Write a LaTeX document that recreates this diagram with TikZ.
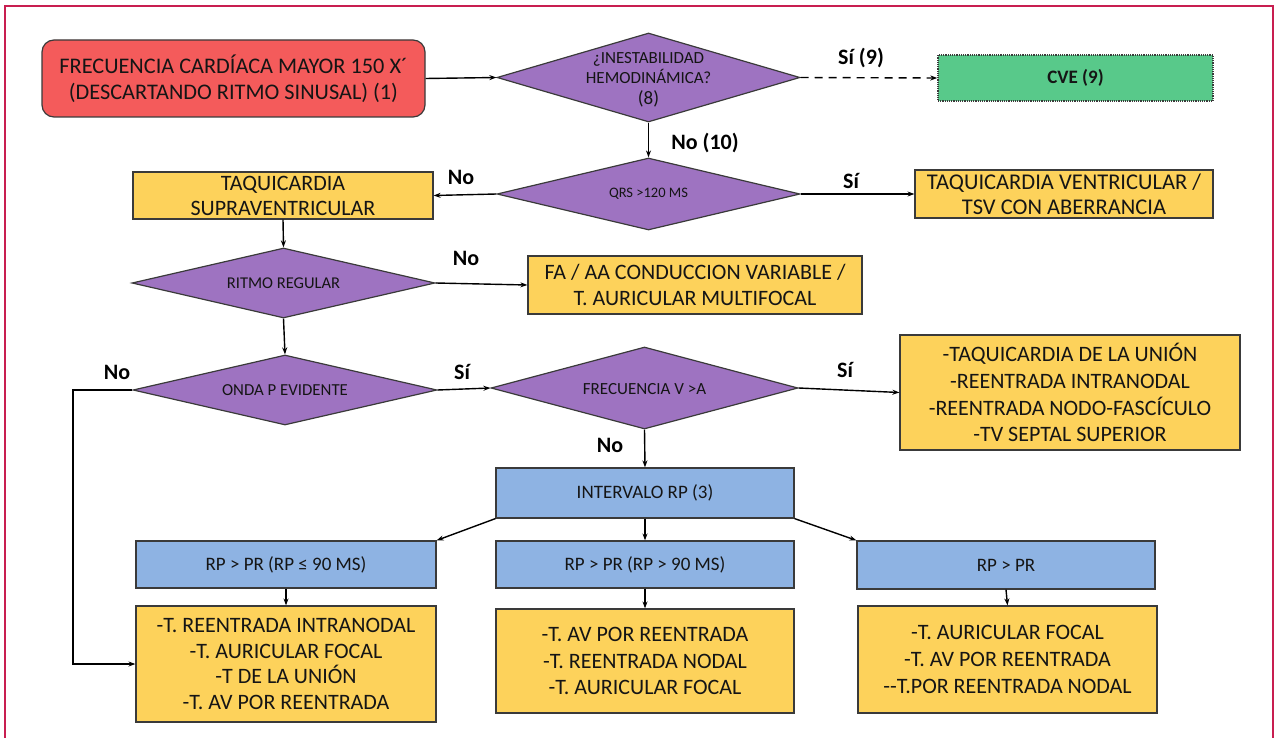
\documentclass[tikz,border=0pt]{standalone}
\usepackage{fontspec}
\setmainfont{Carlito}
\usetikzlibrary{shapes.geometric,arrows.meta}

\definecolor{framecol}{HTML}{C81E50}
\definecolor{redfill}{HTML}{F45B5B}
\definecolor{purplefill}{HTML}{9E73C1}
\definecolor{yellowfill}{HTML}{FDD25B}
\definecolor{bluefill}{HTML}{8EB3E3}
\definecolor{greenfill}{HTML}{58C98A}
\definecolor{edgecol}{HTML}{3A3A3A}
\definecolor{txt}{HTML}{151515}

\tikzset{
  box/.style={rectangle, draw=edgecol, line width=1.2pt, inner sep=0pt,
    align=center, text=txt, font=\fontsize{22}{25.5}\selectfont},
  startbox/.style={box, fill=redfill, rounded corners=12pt,
    font=\fontsize{22.3}{26}\selectfont},
  resbox/.style={box, fill=yellowfill},
  rpbox/.style={box, fill=bluefill, font=\fontsize{19}{21}\selectfont},
  cvebox/.style={box, fill=greenfill, densely dotted, line width=1.4pt,
    font=\bfseries\fontsize{19}{21}\selectfont},
  decision/.style={diamond, draw=edgecol, line width=1.2pt, fill=purplefill,
    inner sep=0pt},
  dtext/.style={align=center, text=txt, inner sep=0pt},
  arr/.style={-{Stealth[length=7pt,width=5pt]}, line width=1.4pt, black},
  lbl/.style={font=\bfseries\fontsize{22}{24}\selectfont, text=black, inner sep=0pt}
}

\begin{document}
\begin{tikzpicture}[x=1pt, y=-1pt]
\useasboundingbox (0,0) rectangle (1277,738);
% outer frame, open at the bottom edge
\draw[framecol, line width=2.6pt] (5,745) -- (5,6) -- (1273,6) -- (1273,745);

% entry and first decision
\node[startbox, minimum width=383pt, minimum height=77pt] (start) at (233.5,78.5)
  {FRECUENCIA CARDÍACA MAYOR 150 X´\\(DESCARTANDO RITMO SINUSAL) (1)};
\node[decision, minimum width=303pt, minimum height=89pt] (d1) at (648.5,77.5) {};
\node[dtext, font=\fontsize{17}{20.5}\selectfont] (d1t) at (648.5,79.5)
  {¿INESTABILIDAD\\HEMODINÁMICA?\\{\fontsize{19}{21}\selectfont (8)}};
\node[cvebox, minimum width=275pt, minimum height=46pt] (cve) at (1075.5,78) {CVE (9)};

% QRS width
\node[decision, minimum width=303pt, minimum height=72pt] (d2) at (648.5,194) {};
\node[dtext, font=\fontsize{14.5}{16}\selectfont] (d2t) at (648.5,194) {QRS >120 MS};
\node[resbox, minimum width=300pt, minimum height=47pt,
  font=\fontsize{22}{25}\selectfont] (tsv) at (283,195.5)
  {TAQUICARDIA\\SUPRAVENTRICULAR};
\node[resbox, minimum width=298pt, minimum height=48pt,
  font=\fontsize{22.5}{25}\selectfont] (tv) at (1064,194)
  {TAQUICARDIA VENTRICULAR /\\TSV CON ABERRANCIA};

% rhythm regularity
\node[decision, minimum width=303pt, minimum height=70pt] (d3) at (283.5,283) {};
\node[dtext, font=\fontsize{16.5}{18}\selectfont] (d3t) at (283.5,283) {RITMO REGULAR};
\node[resbox, minimum width=334pt, minimum height=58pt,
  font=\fontsize{22}{26}\selectfont] (fa) at (695,285)
  {FA / AA CONDUCCION VARIABLE /\\T. AURICULAR MULTIFOCAL};

% P wave and V/A rate
\node[decision, minimum width=304pt, minimum height=70pt] (d4) at (285,390) {};
\node[dtext, font=\fontsize{16.8}{18}\selectfont] (d4t) at (285,390) {ONDA P EVIDENTE};
\node[decision, minimum width=307pt, minimum height=82pt] (d5) at (644.5,388) {};
\node[dtext, font=\fontsize{17}{18}\selectfont] (d5t) at (644.5,389) {FRECUENCIA V >A};
\node[resbox, minimum width=340pt, minimum height=115pt,
  font=\fontsize{22}{26.8}\selectfont] (jx) at (1070,392.5)
  {-TAQUICARDIA DE LA UNIÓN\\-REENTRADA INTRANODAL\\-REENTRADA NODO-FASCÍCULO\\-TV SEPTAL SUPERIOR};

% RP interval branches
\node[rpbox, minimum width=298pt, minimum height=50pt] (iv) at (645,493) {INTERVALO RP (3)};
\node[rpbox, minimum width=300pt, minimum height=47pt] (b1) at (286,564.5) {RP > PR (RP ≤ 90 MS)};
\node[rpbox, minimum width=298pt, minimum height=47pt] (b2) at (645,564.5) {RP > PR (RP > 90 MS)};
\node[rpbox, minimum width=298pt, minimum height=48pt] (b3) at (1006,565) {RP > PR};

\node[resbox, minimum width=300pt, minimum height=116pt] (c1) at (286,664)
  {-T. REENTRADA INTRANODAL\\-T. AURICULAR FOCAL\\-T DE LA UNIÓN\\-T. AV POR REENTRADA};
\node[resbox, minimum width=298pt, minimum height=104pt,
  font=\fontsize{22}{26.5}\selectfont] (c2) at (645,661)
  {-T. AV POR REENTRADA\\-T. REENTRADA NODAL\\-T. AURICULAR FOCAL};
\node[resbox, minimum width=299pt, minimum height=107pt,
  font=\fontsize{22}{27}\selectfont] (c3) at (1007.5,659.5)
  {-T. AURICULAR FOCAL\\-T. AV POR REENTRADA\\-{}-T.POR REENTRADA NODAL};

% connectors
\draw[arr] (start.east) -- (d1.west);
\draw[arr, dashed, dash pattern=on 8pt off 6pt] (d1.east) -- (cve.west);
\draw[arr] (d1.south) -- (d2.north);
\draw[arr] (d2.west) -- (tsv.east);
\draw[arr] (d2.east) -- (tv.west);
\draw[arr] (tsv.south) -- (d3.north);
\draw[arr] (d3.east) -- (fa.west);
\draw[arr] (d3.south) -- (d4.north);
\draw[arr] (d4.east) -- (d5.west);
\coordinate (nobend) at (73,390);
\draw[arr] (d4.west) -- (nobend) |- (c1.west);
\draw[arr] (d5.east) -- (jx.west);
\draw[arr] (d5.south) -- (iv.north);
\draw[arr] (iv.south west) -- (b1.north east);
\draw[arr] (iv.south) -- (b2.north);
\draw[arr] (iv.south east) -- (b3.north west);
\draw[arr] (b1.south) -- (c1.north);
\draw[arr] (b2.south) -- (c2.north);
\draw[arr] (b3.south) -- (c3.north);

% branch labels
\node[lbl] (l1) at (861,58) {Sí (9)};
\node[lbl] (l2) at (705,143) {No (10)};
\node[lbl] (l3) at (461,177) {No};
\node[lbl] (l4) at (851,181) {Sí};
\node[lbl] (l5) at (466,258) {No};
\node[lbl] (l6) at (117,372) {No};
\node[lbl] (l7) at (462,372) {Sí};
\node[lbl] (l8) at (845,370) {Sí};
\node[lbl] (l9) at (610,445) {No};
\end{tikzpicture}
\end{document}
